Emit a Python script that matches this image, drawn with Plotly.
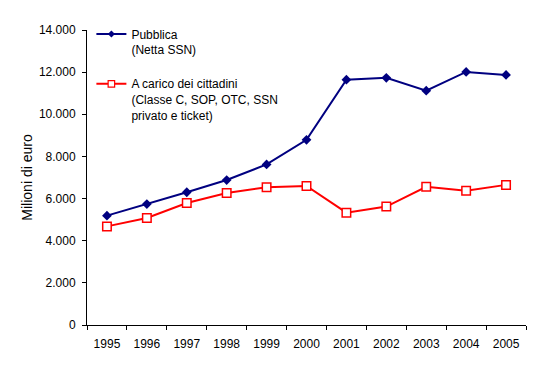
import plotly.graph_objects as go

years = ["1995", "1996", "1997", "1998", "1999", "2000", "2001", "2002", "2003", "2004", "2005"]
pubblica = [5190, 5740, 6300, 6880, 7620, 8790, 11640, 11730, 11120, 12010, 11870]
cittadini = [4680, 5080, 5790, 6260, 6540, 6600, 5330, 5620, 6560, 6370, 6650]
name_pub = "Pubblica<br>(Netta SSN)<br> "
name_cit = "A carico dei cittadini<br>(Classe C, SOP, OTC, SSN<br>privato e ticket)"

BLUE = "#000080"
RED = "#FF0000"

fig = go.Figure()
# data traces
fig.add_trace(go.Scatter(
    x=years, y=pubblica, name=name_pub, mode="lines+markers", showlegend=False,
    line=dict(color=BLUE, width=2),
    marker=dict(symbol="diamond", size=7.5, color=BLUE),
))
fig.add_trace(go.Scatter(
    x=years, y=cittadini, name=name_cit, mode="lines+markers", showlegend=False,
    line=dict(color=RED, width=2),
    marker=dict(symbol="square", size=8.5, color="white", line=dict(color=RED, width=1.5)),
))
# legend entries (smaller symbols, as in the original)
fig.add_trace(go.Scatter(
    x=[None], y=[None], name=name_pub, mode="lines+markers",
    line=dict(color=BLUE, width=2),
    marker=dict(symbol="diamond", size=5.5, color=BLUE),
))
fig.add_trace(go.Scatter(
    x=[None], y=[None], name=name_cit, mode="lines+markers",
    line=dict(color=RED, width=2),
    marker=dict(symbol="square", size=6.5, color="white", line=dict(color=RED, width=1.2)),
))

fig.update_layout(
    width=540, height=363,
    margin=dict(l=79, r=22, t=19, b=46),
    paper_bgcolor="white", plot_bgcolor="white",
    font=dict(family="Liberation Sans, Arial, sans-serif", size=12, color="black"),
    separators=",.",
    showlegend=True,
    legend=dict(x=0.01, y=1.035, xanchor="left", yanchor="top", bgcolor="rgba(0,0,0,0)",
                valign="top", tracegroupgap=0, itemwidth=30,
                font=dict(size=12)),
    xaxis=dict(type="category", showline=True, linecolor="black", linewidth=1,
               ticks="outside", ticklen=4, tickcolor="black", tickson="boundaries",
               showgrid=False, zeroline=False, range=[-0.5, 10.5], automargin=False,
               ticklabelstandoff=8),
    yaxis=dict(range=[0, 14000], dtick=2000, tickformat=",d", showline=True,
               linecolor="black", linewidth=1, ticks="outside", ticklen=4,
               tickcolor="black", showgrid=False, zeroline=False, automargin=False,
               ticklabelstandoff=4,
               title=dict(text="Milioni di euro", standoff=2)),
)

fig.write_html("out.html")
